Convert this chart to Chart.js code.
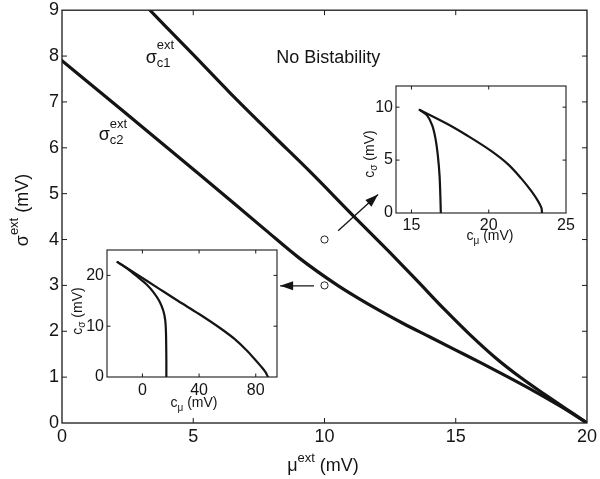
<!DOCTYPE html>
<html><head><meta charset="utf-8">
<script src="https://cdn.jsdelivr.net/npm/chart.js@4/dist/chart.umd.min.js"></script>
<style>
html,body{margin:0;padding:0;background:#fff;}
#wrap{position:relative;width:600px;height:479px;overflow:hidden;}
canvas{position:absolute;display:block;}
</style></head><body>
<div id="wrap">
<canvas id="main" width="600" height="479" style="left:0px;top:0px;width:600px;height:479px"></canvas>
<canvas id="insetA" width="240" height="176" style="left:346px;top:76px;width:240px;height:176px"></canvas>
<canvas id="insetB" width="240" height="180" style="left:57px;top:240px;width:240px;height:180px"></canvas>
</div>
<script>
// ---------- data ----------
const mainXTicks = [0, 5, 10, 15, 20];
const mainYTicks = [0, 1, 2, 3, 4, 5, 6, 7, 8, 9];
const c1Mu    = [3.35, 5, 6.38, 8, 9.45, 11.06, 12.45, 13.5, 14.6, 15.5, 16.5, 17.5, 18.4, 19.2, 20];
const c1Sigma = [9, 8.03, 7.21, 6.29, 5.48, 4.54, 3.74, 3.12, 2.46, 1.95, 1.43, 0.98, 0.62, 0.31, 0];
const c2Mu    = [0, 2.5, 5.24, 7.77, 9.03, 10.5, 11.2, 12.07, 13, 14, 15, 16, 17, 18, 19, 20];
const c2Sigma = [7.9, 6.72, 5.42, 4.2, 3.6, 3.0, 2.75, 2.46, 2.17, 1.88, 1.59, 1.3, 1.0, 0.69, 0.36, 0];
const probeMu    = [10, 10];
const probeSigma = [4, 3];
const arrowUpMu    = [10.52, 12.04];
const arrowUpSigma = [4.19, 4.98];
const arrowLowMu    = [9.6, 8.31];
const arrowLowSigma = [2.99, 2.99];

// upper inset (probe at sigma=4)
const insetAXTicks = [15, 20, 25];
const insetAYTicks = [0, 5, 10];
const insetAInnerMu    = [15.54, 16.02, 16.35, 16.56, 16.71, 16.82, 16.87, 16.9];
const insetAInnerSigma = [9.74, 9.2, 8.25, 6.98, 5.39, 3.49, 1.58, 0];
const insetAOuterMu    = [15.54, 17.33, 18.63, 20.15, 21.24, 22.1, 22.76, 23.2, 23.41, 23.45];
const insetAOuterSigma = [9.74, 8.41, 7.3, 5.87, 4.62, 3.27, 2.06, 1.1, 0.48, 0];

// lower inset (probe at sigma=3)
const insetBXTicks = [0, 40, 80];
const insetBYTicks = [0, 10, 20];
const insetBInnerMu    = [-17.5, -10, -3, 3, 8, 12, 14.8, 16.1, 16.6, 16.8, 16.9, 16.9];
const insetBInnerSigma = [22.6, 21.2, 19.6, 18.2, 16.6, 14.9, 13, 11.2, 9, 6, 3, 0];
const insetBOuterMu    = [-17.5, -5, 10, 25, 40, 55, 65, 73, 79, 84, 87, 88.6];
const insetBOuterSigma = [22.6, 20.4, 17.7, 15.0, 12.4, 9.6, 7.5, 5.4, 3.6, 2.0, 0.9, 0];

// ---------- helpers ----------
const FF = "'Liberation Sans', Arial, Helvetica, sans-serif";
const INK = '#141414';
const zip = (xs, ys) => xs.map((x, i) => ({x: x, y: ys[i]}));

function drawRich(ctx, segs, x, y, align, rot) {
  ctx.save();
  ctx.translate(x, y);
  if (rot) ctx.rotate(rot);
  let cur = 0, prevStart = 0;
  const items = [];
  for (const s of segs) {
    ctx.font = s.size + 'px ' + FF;
    const w = ctx.measureText(s.t).width;
    const sx = s.stack ? prevStart : cur;
    items.push({s: s, sx: sx});
    prevStart = sx;
    cur = Math.max(cur, sx + w);
  }
  const off = align === 'center' ? -cur / 2 : 0;
  ctx.fillStyle = INK;
  ctx.textAlign = 'left';
  ctx.textBaseline = 'alphabetic';
  for (const it of items) {
    ctx.font = it.s.size + 'px ' + FF;
    ctx.fillText(it.s.t, off + it.sx, it.s.dy || 0);
  }
  ctx.restore();
}

function makeDecor(cfg) {
  return {
    id: 'decor',
    beforeDraw(chart) {
      const ctx = chart.ctx, a = chart.chartArea;
      ctx.save();
      ctx.fillStyle = '#fff';
      if (cfg.fillAll) ctx.fillRect(0, 0, chart.width, chart.height);
      else ctx.fillRect(a.left, a.top, a.right - a.left, a.bottom - a.top);
      ctx.restore();
    },
    afterDatasetsDraw(chart) {
      const ctx = chart.ctx;
      const xs = chart.scales.x, ys = chart.scales.y;
      (cfg.arrows || []).forEach(ar => {
        const n = ar.xs.length;
        const x1 = xs.getPixelForValue(ar.xs[n - 2]), y1 = ys.getPixelForValue(ar.ys[n - 2]);
        const x2 = xs.getPixelForValue(ar.xs[n - 1]), y2 = ys.getPixelForValue(ar.ys[n - 1]);
        const ang = Math.atan2(y2 - y1, x2 - x1);
        const L = 13, W = 4.5;
        ctx.save();
        ctx.fillStyle = INK;
        ctx.beginPath();
        ctx.moveTo(x2, y2);
        ctx.lineTo(x2 - L * Math.cos(ang) + W * Math.sin(ang), y2 - L * Math.sin(ang) - W * Math.cos(ang));
        ctx.lineTo(x2 - L * Math.cos(ang) - W * Math.sin(ang), y2 - L * Math.sin(ang) + W * Math.cos(ang));
        ctx.closePath();
        ctx.fill();
        ctx.restore();
      });
    },
    afterDraw(chart) {
      const ctx = chart.ctx, a = chart.chartArea;
      const xs = chart.scales.x, ys = chart.scales.y;
      ctx.save();
      ctx.strokeStyle = '#1a1a1a';
      ctx.lineWidth = cfg.frameWidth;
      ctx.strokeRect(a.left, a.top, a.right - a.left, a.bottom - a.top);
      ctx.lineWidth = 1;
      const t = cfg.tickLen;
      ctx.beginPath();
      xs.ticks.forEach(tk => {
        const p = xs.getPixelForValue(tk.value);
        if (p <= a.left + 1 || p >= a.right - 1) return;
        ctx.moveTo(p, a.bottom); ctx.lineTo(p, a.bottom - t);
        ctx.moveTo(p, a.top); ctx.lineTo(p, a.top + t);
      });
      ys.ticks.forEach(tk => {
        const p = ys.getPixelForValue(tk.value);
        if (p <= a.top + 1 || p >= a.bottom - 1) return;
        ctx.moveTo(a.left, p); ctx.lineTo(a.left + t, p);
        ctx.moveTo(a.right, p); ctx.lineTo(a.right - t, p);
      });
      ctx.stroke();
      ctx.restore();
      (cfg.texts || []).forEach(tx => {
        let px = tx.x, py = tx.y;
        if (tx.data) { px = xs.getPixelForValue(tx.x); py = ys.getPixelForValue(tx.y); }
        drawRich(ctx, tx.segs, px, py, tx.align, tx.rot);
      });
    }
  };
}

function axis(min, max, ticks, size, fitProp, fitVal, font, pad, lh) {
  return {
    type: 'linear', min: min, max: max,
    afterBuildTicks: s => { s.ticks = ticks.map(v => ({value: v})); },
    afterFit: s => { s[fitProp] = fitVal; },
    grid: {display: false, drawTicks: false},
    border: {display: false},
    title: {display: false},
    ticks: {font: {family: FF, size: font, lineHeight: lh || 1.2}, color: INK, padding: pad,
             maxRotation: 0, autoSkip: false}
  };
}

const baseOpts = {
  responsive: false, animation: false, devicePixelRatio: 1,
  plugins: {legend: {display: false}, tooltip: {enabled: false}},
  elements: {point: {radius: 0, hoverRadius: 0}}
};

function curve(xs, ys, w, mode) {
  const d = {data: zip(xs, ys), showLine: true, borderColor: INK, borderWidth: w, pointRadius: 0,
             borderCapStyle: 'round', borderJoinStyle: 'round'};
  if (mode === 'monotone') d.cubicInterpolationMode = 'monotone';
  else d.tension = mode;
  return d;
}

// ---------- main chart ----------
new Chart(document.getElementById('main'), {
  type: 'scatter',
  data: {datasets: [
    curve(c1Mu, c1Sigma, 3.2, 'monotone'),
    curve(c2Mu, c2Sigma, 3.2, 'monotone'),
    {data: zip(arrowUpMu, arrowUpSigma), showLine: true, borderColor: INK, borderWidth: 1.3, pointRadius: 0},
    {data: zip(arrowLowMu, arrowLowSigma), showLine: true, borderColor: INK, borderWidth: 1.3, pointRadius: 0},
    {data: zip(probeMu, probeSigma), showLine: false, pointRadius: 3.6, pointBackgroundColor: '#fff',
     pointBorderColor: '#222', pointBorderWidth: 1}
  ]},
  options: Object.assign({}, baseOpts, {
    layout: {padding: {top: 8, right: 11, left: 0, bottom: 0}},
    scales: {
      x: axis(0, 20, mainXTicks, 18, 'height', 56, 18, 3),
      y: axis(0, 9, mainYTicks, 18, 'width', 62, 18, 3, 0.8)
    }
  }),
  plugins: [makeDecor({
    fillAll: true, frameWidth: 1.3, tickLen: 5,
    arrows: [{xs: arrowUpMu, ys: arrowUpSigma}, {xs: arrowLowMu, ys: arrowLowSigma}],
    texts: [
      {data: true, x: 8.16, y: 7.84, segs: [{t: 'No Bistability', size: 18}]},
      {data: true, x: 3.19, y: 7.85, segs: [{t: 'σ', size: 18}, {t: 'ext', size: 13, dy: -13.5}, {t: 'c1', size: 13, dy: 4, stack: true}]},
      {data: true, x: 1.40, y: 6.18, segs: [{t: 'σ', size: 18}, {t: 'ext', size: 13, dy: -12}, {t: 'c2', size: 13, dy: 4.5, stack: true}]},
      {x: 323, y: 471, align: 'center', segs: [{t: 'μ', size: 18}, {t: 'ext', size: 13, dy: -9}, {t: ' (mV)', size: 18}]},
      {x: 28, y: 210, align: 'center', rot: -Math.PI / 2, segs: [{t: 'σ', size: 18}, {t: 'ext', size: 13, dy: -10}, {t: ' (mV)', size: 18}]}
    ]
  })]
});

// ---------- upper inset ----------
new Chart(document.getElementById('insetA'), {
  type: 'scatter',
  data: {datasets: [
    curve(insetAInnerMu, insetAInnerSigma, 2.2, 0.3),
    curve(insetAOuterMu, insetAOuterSigma, 2.2, 0.35)
  ]},
  options: Object.assign({}, baseOpts, {
    layout: {padding: {top: 10, right: 20, left: 0, bottom: 0}},
    scales: {
      x: axis(14, 25, insetAXTicks, 16, 'height', 39, 16, 3),
      y: axis(0, 12, insetAYTicks, 16, 'width', 50, 16, 3, 0.8)
    }
  }),
  plugins: [makeDecor({
    fillAll: false, frameWidth: 1.1, tickLen: 3.5,
    texts: [
      {x: 144, y: 164, align: 'center', segs: [{t: 'c', size: 14}, {t: 'μ', size: 10, dy: 4}, {t: ' (mV)', size: 14}]},
      {x: 28, y: 78, align: 'center', rot: -Math.PI / 2, segs: [{t: 'c', size: 14}, {t: 'σ', size: 10, dy: 3}, {t: ' (mV)', size: 14}]}
    ]
  })]
});

// ---------- lower inset ----------
new Chart(document.getElementById('insetB'), {
  type: 'scatter',
  data: {datasets: [
    curve(insetBInnerMu, insetBInnerSigma, 2.2, 0.3),
    curve(insetBOuterMu, insetBOuterSigma, 2.2, 0.35)
  ]},
  options: Object.assign({}, baseOpts, {
    layout: {padding: {top: 10, right: 20, left: 0, bottom: 0}},
    scales: {
      x: axis(-25, 95, insetBXTicks, 16, 'height', 43, 16, 4),
      y: axis(0, 25, insetBYTicks, 16, 'width', 50, 16, 3, 0.8)
    }
  }),
  plugins: [makeDecor({
    fillAll: false, frameWidth: 1.1, tickLen: 3.5,
    texts: [
      {x: 137, y: 167, align: 'center', segs: [{t: 'c', size: 14}, {t: 'μ', size: 10, dy: 4}, {t: ' (mV)', size: 14}]},
      {x: 25, y: 71, align: 'center', rot: -Math.PI / 2, segs: [{t: 'c', size: 14}, {t: 'σ', size: 10, dy: 3}, {t: ' (mV)', size: 14}]}
    ]
  })]
});
</script>
</body></html>
